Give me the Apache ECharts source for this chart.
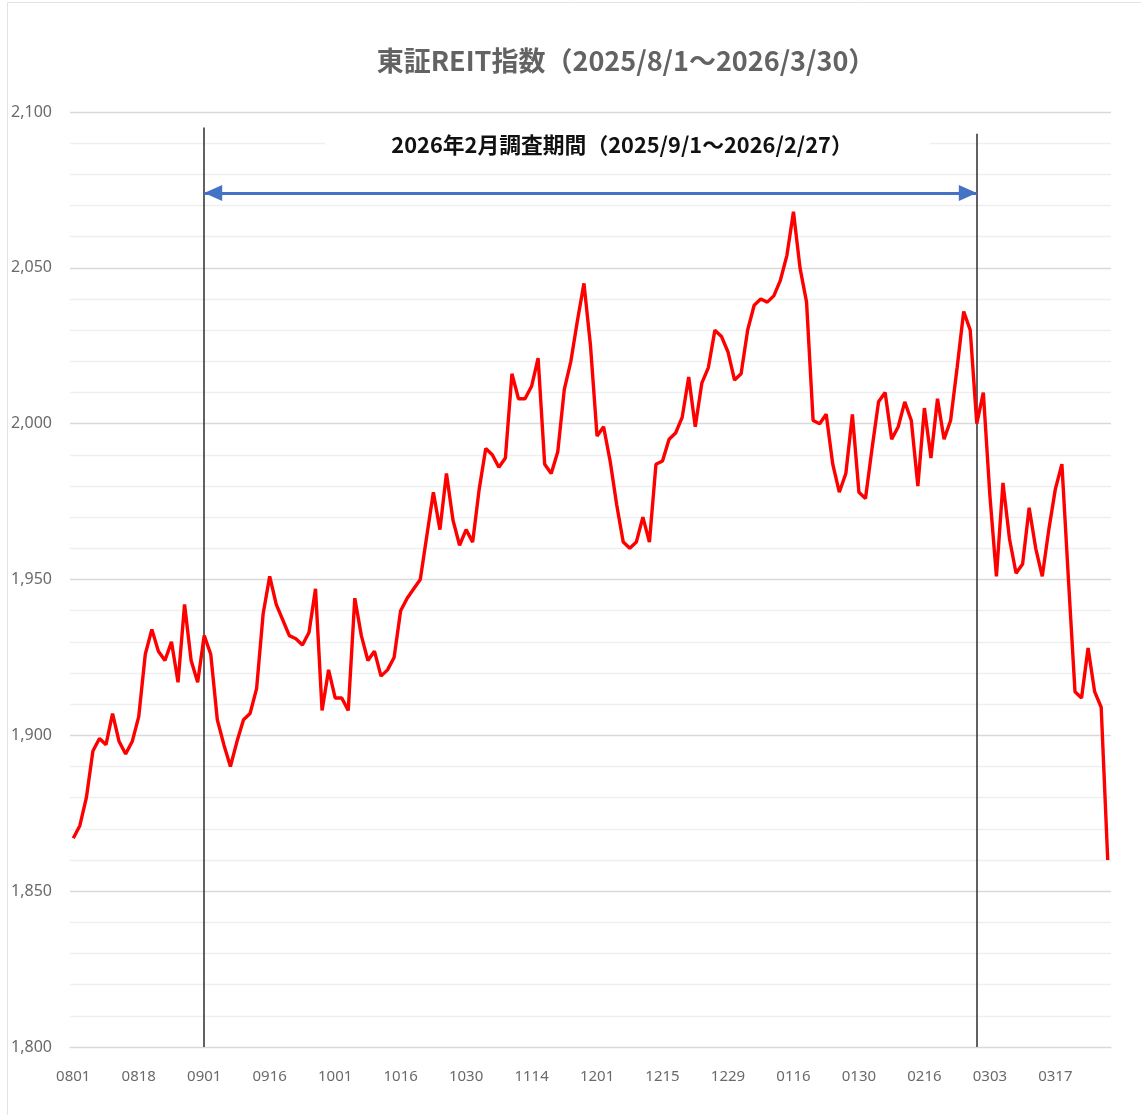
<!DOCTYPE html>
<html>
<head>
<meta charset="utf-8">
<script src="https://cdn.jsdelivr.net/npm/echarts@6/dist/echarts.min.js"></script>
<style>
html,body{margin:0;padding:0;background:#fff;}
#c{width:1141px;height:1115px;}
</style>
</head>
<body>
<div id="c"></div>
<script>
// Trading days (MMDD), 2025/8/1 - 2026/3/30
var dates = [
 '0801','0804','0805','0806','0807','0808','0812','0813','0814','0815','0818','0819','0820','0821','0822','0825','0826','0827','0828','0829',
 '0901','0902','0903','0904','0905','0908','0909','0910','0911','0912','0916','0917','0918','0919','0922','0924','0925','0926','0929','0930',
 '1001','1002','1003','1006','1007','1008','1009','1010','1014','1015','1016','1017','1020','1021','1022','1023','1024','1027','1028','1029','1030','1031',
 '1104','1105','1106','1107','1110','1111','1112','1113','1114','1117','1118','1119','1120','1121','1125','1126','1127','1128',
 '1201','1202','1203','1204','1205','1208','1209','1210','1211','1212','1215','1216','1217','1218','1219','1222','1223','1224','1225','1226','1229','1230',
 '0105','0106','0107','0108','0109','0113','0114','0115','0116','0119','0120','0121','0122','0123','0126','0127','0128','0129','0130',
 '0202','0203','0204','0205','0206','0209','0210','0212','0213','0216','0217','0218','0219','0220','0224','0225','0226','0227',
 '0302','0303','0304','0305','0306','0309','0310','0311','0312','0313','0316','0317','0318','0319','0323','0324','0325','0326','0327','0330'
];
// 東証REIT指数 close values
var reitIndex = [
 1867,1871,1880,1895,1899,1897,1907,1898,1894,1898,1906,1926,1934,1927,1924,1930,1917,1942,1924,1917,
 1932,1926,1905,1897,1890,1898,1905,1907,1915,1939,1951,1942,1937,1932,1931,1929,1933,1947,1908,1921,
 1912,1912,1908,1944,1932,1924,1927,1919,1921,1925,1940,1944,1947,1950,1964,1978,1966,1984,1969,1961,1966,1962,
 1979,1992,1990,1986,1989,2016,2008,2008,2012,2021,1987,1984,1991,2011,2020,2033,2045,2025,
 1996,1999,1988,1974,1962,1960,1962,1970,1962,1987,1988,1995,1997,2002,2015,1999,2013,2018,2030,2028,2023,2014,
 2016,2030,2038,2040,2039,2041,2046,2054,2068,2050,2039,2001,2000,2003,1987,1978,1984,2003,1978,
 1976,1992,2007,2010,1995,1999,2007,2001,1980,2005,1989,2008,1995,2001,2018,2036,2030,2000,
 2010,1977,1951,1981,1963,1952,1955,1973,1960,1951,1966,1979,1987,1950,1914,1912,1928,1914,1909,1860
];
var yMin = 1800, yMax = 2100, yStep = 50;
var periodStart = '0901', periodEnd = '0227';
var periodTopStart = 2095, periodTopEnd = 2093;
var arrowLevel = 2074;
var titleText = '東証REIT指数（2025/8/1～2026/3/30）';
var periodText = '2026年2月調査期間（2025/9/1～2026/2/27）';

var chart = echarts.init(document.getElementById('c'), null, {renderer:'canvas'});
var jpFont = '"Noto Sans CJK JP", "Noto Sans", sans-serif';
chart.setOption({
  animation:false,
  backgroundColor:'#fff',
  title:{
    text:titleText, left:626, top:47, textAlign:'center', padding:0,
    textStyle:{fontFamily:jpFont, fontSize:27, fontWeight:'bold', color:'#636363'}
  },
  grid:{left:70, right:30, top:112, bottom:68},
  xAxis:{
    type:'category', data:dates, boundaryGap:true,
    axisLine:{lineStyle:{color:'#d9d9d9', width:1}},
    axisTick:{show:false},
    axisLabel:{interval:9, color:'#6a6a6a', fontFamily:'"Noto Sans", sans-serif', fontSize:15, margin:22}
  },
  yAxis:{
    type:'value', min:yMin, max:yMax, interval:yStep,
    axisLine:{show:false}, axisTick:{show:false},
    axisLabel:{color:'#6a6a6a', fontFamily:'"Noto Sans", sans-serif', fontSize:16, margin:18,
      formatter:function(v){return v.toLocaleString('en-US');}},
    splitLine:{lineStyle:{color:'#d9d9d9', width:1.3}},
    minorTick:{show:false, splitNumber:5},
    minorSplitLine:{show:true, lineStyle:{color:'#efefef', width:1.3}}
  },
  graphic:[
    {type:'rect', z:-1, shape:{x:7.5, y:2.5, width:1300, height:1300}, style:{fill:'none', stroke:'#e3e3e3', lineWidth:1}},
    {type:'rect', z:50, shape:{x:325, y:130, width:605, height:30}, style:{fill:'#fff'}},
    {type:'text', z:51, x:622, y:145, style:{text:periodText, fontFamily:jpFont, fontSize:21.8, fontWeight:'bold', fill:'#111', align:'center', verticalAlign:'middle'}}
  ],
  series:[{
    type:'line', data:reitIndex, showSymbol:false, symbol:'none',
    lineStyle:{color:'#ff0000', width:3.4}, itemStyle:{color:'#ff0000'},
    z:5,
    markLine:{
      silent:true, animation:false,
      label:{show:false},
      emphasis:{disabled:true},
      symbolOffset:[[0,9],[0,9]],
      data:[
        [{coord:[periodStart, yMin], symbol:'none', lineStyle:{color:'#3a3a3a', width:1.6, type:'solid'}},
         {coord:[periodStart, periodTopStart], symbol:'none'}],
        [{coord:[periodEnd, yMin], symbol:'none', lineStyle:{color:'#3a3a3a', width:1.6, type:'solid'}},
         {coord:[periodEnd, periodTopEnd], symbol:'none'}],
        [{coord:[periodStart, arrowLevel], symbol:'triangle', symbolSize:[16,18], symbolOffset:[0,9], lineStyle:{color:'#4472c4', width:3, type:'solid'}},
         {coord:[periodEnd, arrowLevel], symbol:'triangle', symbolSize:[16,18], symbolOffset:[0,9]}]
      ]
    }
  }]
});
</script>
</body>
</html>
